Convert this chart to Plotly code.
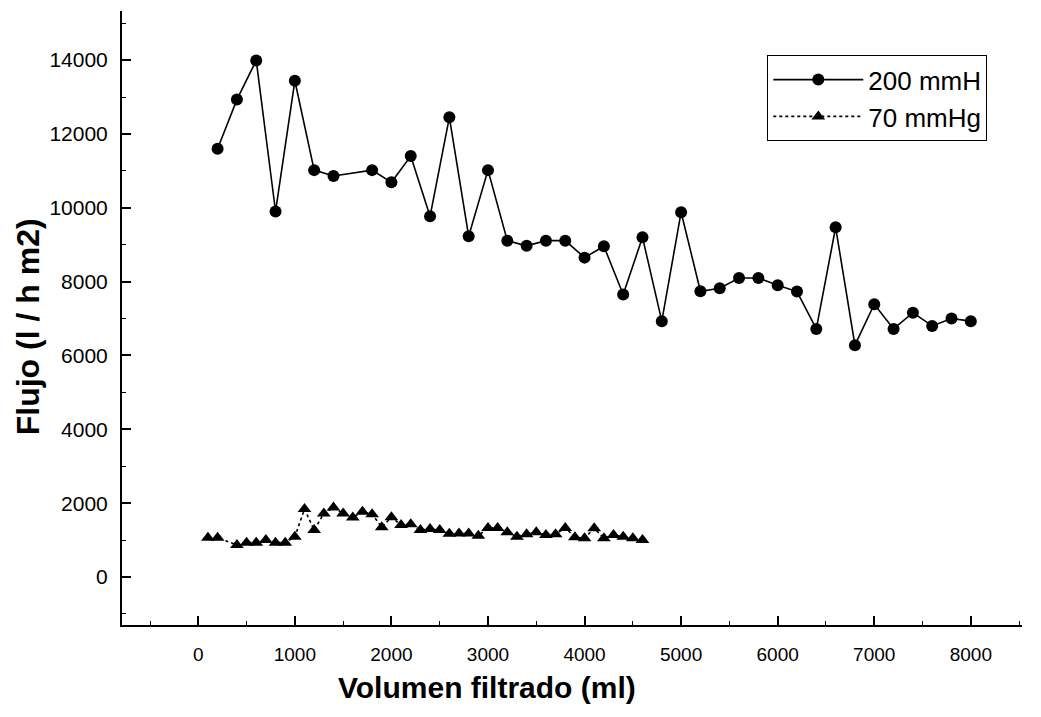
import plotly.graph_objects as go

# Series 1: 200 mmH (circles, solid line)
x_200 = [200, 400, 600, 800, 1000, 1200, 1400, 1800, 2000, 2200, 2400, 2600, 2800,
         3000, 3200, 3400, 3600, 3800, 4000, 4200, 4400, 4600, 4800, 5000, 5200,
         5400, 5600, 5800, 6000, 6200, 6400, 6600, 6800, 7000, 7200, 7400, 7600,
         7800, 8000]
y_200 = [11600, 12930, 13990, 9900, 13440, 11020, 10860, 11020, 10690, 11400, 9770,
         12450, 9230, 11020, 9110, 8970, 9110, 9110, 8650, 8960, 7650, 9200, 6930,
         9880, 7740, 7820, 8100, 8100, 7900, 7730, 6720, 9470, 6280, 7390, 6720,
         7160, 6800, 7000, 6930]

# Series 2: 70 mmHg (triangles, dotted line)
x_70 = [100, 200, 400, 500, 600, 700, 800, 900, 1000, 1100, 1200, 1300, 1400, 1500,
        1600, 1700, 1800, 1900, 2000, 2100, 2200, 2300, 2400, 2500, 2600, 2700, 2800,
        2900, 3000, 3100, 3200, 3300, 3400, 3500, 3600, 3700, 3800, 3900, 4000, 4100,
        4200, 4300, 4400, 4500, 4600]
y_70 = [1060, 1060, 870, 930, 930, 1000, 930, 930, 1090, 1840, 1270, 1720, 1880, 1720,
        1610, 1770, 1700, 1350, 1620, 1410, 1430, 1270, 1300, 1270, 1170, 1180, 1180,
        1120, 1330, 1330, 1210, 1090, 1160, 1210, 1140, 1160, 1330, 1080, 1050, 1320,
        1050, 1140, 1090, 1050, 1000]

series_names = ["200 mmH", "70 mmHg"]
x_title = "Volumen filtrado (ml)"
y_title = "Flujo (l / h m2)"

FONT = "Arial, Liberation Sans, sans-serif"
NARROW = "Liberation Sans Narrow, Arial Narrow, Liberation Sans, sans-serif"

fig = go.Figure()
fig.add_trace(go.Scatter(
    x=x_200, y=y_200, name=series_names[0], mode="lines+markers",
    line=dict(color="black", width=1.6),
    marker=dict(symbol="circle", size=12, color="black"),
))
fig.add_trace(go.Scatter(
    x=x_70, y=y_70, name=series_names[1], mode="lines+markers",
    line=dict(color="black", width=1.6, dash="dot"),
    marker=dict(symbol="triangle-up", size=12, color="black"),
))

axis_common = dict(
    showline=True, linecolor="black", linewidth=2,
    ticks="inside", ticklen=9, tickwidth=1.5, tickcolor="black",
    showgrid=False, zeroline=False, mirror=False,
)

fig.update_xaxes(
    range=[-790, 8530], tickmode="linear", tick0=0, dtick=1000, tickformat="d",
    minor=dict(ticks="inside", ticklen=4, tickwidth=1.2, tickcolor="black", dtick=500, tick0=0, showgrid=False),
    tickfont=dict(family=NARROW, size=19, color="black"),
    ticklabelstandoff=11,
    **axis_common,
)
fig.update_yaxes(
    range=[-1300, 15330], tickmode="linear", tick0=0, dtick=2000, tickformat="d",
    minor=dict(ticks="inside", ticklen=4, tickwidth=1.2, tickcolor="black", dtick=1000, tick0=0, showgrid=False),
    tickfont=dict(family=FONT, size=21, color="black"),
    ticklabelstandoff=8,
    **axis_common,
)

fig.add_annotation(
    text="<b>" + x_title + "</b>", xref="paper", yref="paper",
    x=0.405, y=-0.101, xanchor="center", yanchor="middle", showarrow=False,
    font=dict(family=FONT, size=30, color="black"),
)
fig.add_annotation(
    text="<b>" + y_title + "</b>", xref="paper", yref="paper",
    x=-0.1044, y=0.485, xanchor="center", yanchor="middle", showarrow=False,
    textangle=-90, font=dict(family=FONT, size=32, color="black"),
)

fig.update_layout(
    width=1041, height=717,
    margin=dict(l=122, r=19, t=11, b=92),
    paper_bgcolor="white", plot_bgcolor="white",
    font=dict(family=FONT, color="black"),
    legend=dict(
        x=0.717, y=0.928, xanchor="left", yanchor="top",
        bordercolor="black", borderwidth=1, bgcolor="white",
        font=dict(family=FONT, size=26, color="black"),
        itemwidth=90, tracegroupgap=0,
    ),
    showlegend=True,
)

fig.write_html("out.html")
